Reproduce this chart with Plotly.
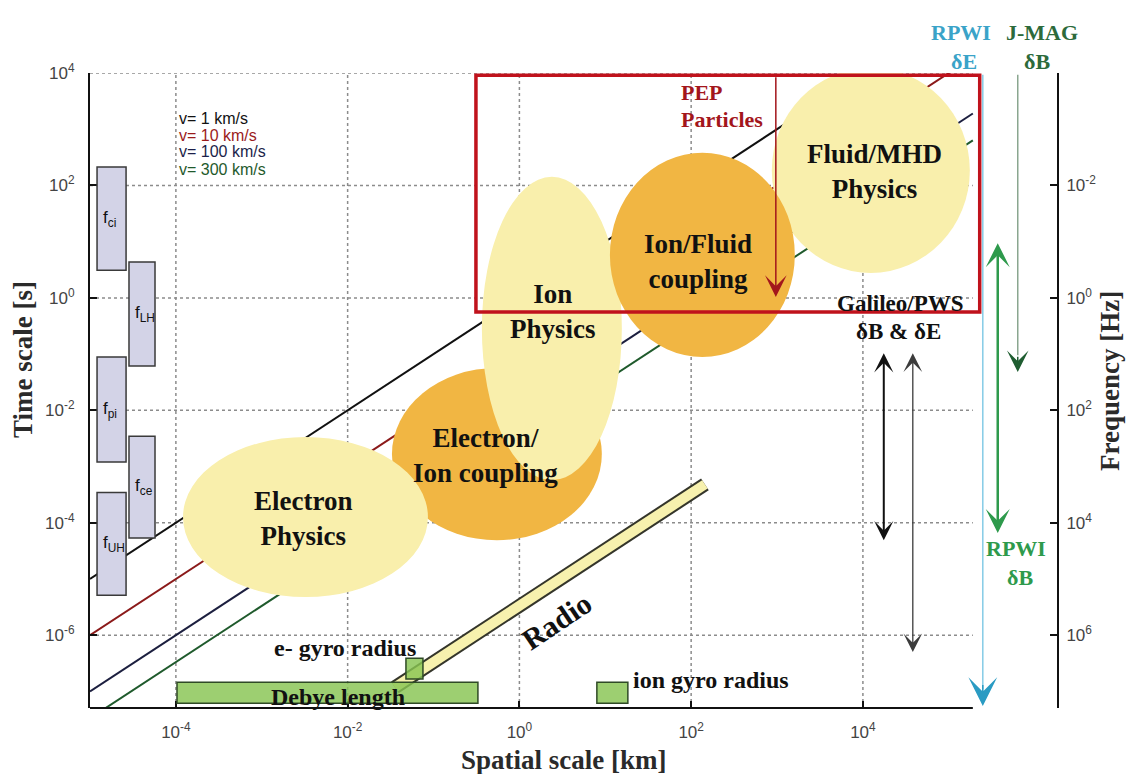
import numpy as np
import plotly.graph_objects as go

# ---------------- data ----------------
velocity_kms = [1, 10, 100, 300]
velocity_label = ["v= 1 km/s", "v= 10 km/s", "v= 100 km/s", "v= 300 km/s"]
light_speed_kms = 3.0e5

x_tick_vals = [1e-4, 1e-2, 1e0, 1e2, 1e4]
x_tick_text = ["10<sup>-4</sup>", "10<sup>-2</sup>", "10<sup>0</sup>", "10<sup>2</sup>", "10<sup>4</sup>"]
t_tick_vals = [1e-6, 1e-4, 1e-2, 1e0, 1e2, 1e4]
t_tick_text = ["10<sup>-6</sup>", "10<sup>-4</sup>", "10<sup>-2</sup>", "10<sup>0</sup>", "10<sup>2</sup>", "10<sup>4</sup>"]
f_tick_vals = [1e-2, 1e0, 1e2, 1e4, 1e6]
f_tick_text = ["10<sup>-2</sup>", "10<sup>0</sup>", "10<sup>2</sup>", "10<sup>4</sup>", "10<sup>6</sup>"]

plasma_freq_label = ["f<sub>ci</sub>", "f<sub>LH</sub>", "f<sub>pi</sub>", "f<sub>ce</sub>", "f<sub>UH</sub>"]
plasma_t_upper = [10**2.33, 10**0.64, 10**-1.05, 10**-2.46, 10**-3.46]
plasma_t_lower = [10**0.49, 10**-1.21, 10**-2.92, 10**-4.27, 10**-5.29]
plasma_column = [0, 1, 0, 1, 0]
column_L_left = [10**-4.918, 10**-4.546]
column_L_right = [10**-4.580, 10**-4.243]

# physical regimes (drawing order matters)
regime_label = ["Electron/<br>Ion coupling", "Electron<br>Physics", "Ion<br>Physics",
                "Fluid/MHD<br>Physics", "Ion/Fluid<br>coupling"]
regime_kind = ["coupling", "physics", "physics", "physics", "coupling"]
regime_L_min = [10**-1.484, 10**-3.917, 10**-0.437, 10**2.939, 10**1.054]
regime_L_max = [10**0.960, 10**-1.065, 10**1.193, 10**5.245, 10**3.207]
regime_t_max = [10**-1.246, 10**-2.475, 10**2.153, 10**4.09, 10**2.58]
regime_t_min = [10**-4.31, 10**-5.32, 10**-3.24, 10**0.445, 10**-1.05]
regime_label_L = [10**-0.39, 10**-2.52, 10**0.39, 10**4.138, 10**2.078]
regime_label_t = [10**-2.81, 10**-3.92, 10**-0.25, 10**2.24, 10**0.64]

scale_label = ["Debye length", "e- gyro radius", "ion gyro radius"]
scale_L_min = [10**-3.987, 10**-1.321, 10**0.902]
scale_L_max = [10**-0.483, 10**-1.123, 10**1.263]
scale_t_max = [10**-6.834, 10**-6.407, 10**-6.834]
scale_t_min = [10**-7.208, 10**-6.780, 10**-7.208]

radio_L = [10**-1.45, 10**2.16]

pep_box_L = [10**-0.506, 10**5.36]
pep_box_t = [10**-0.25, 10**3.96]

instrument_name = ["PEP", "Galileo/PWS a", "Galileo/PWS b", "RPWI dE", "RPWI dB", "J-MAG dB"]
instrument_L = [10**2.986, 10**4.243, 10**4.581, 10**5.396, 10**5.570, 10**5.803]
instrument_t_upper = [10**3.95, 10**-0.96, 10**-0.96, 10**3.97, 10**1.0, 10**3.97]
instrument_t_lower = [10**0.017, 10**-4.31, 10**-6.30, 10**-7.26, 10**-4.18, 10**-1.32]
instrument_two_sided = [False, True, True, False, True, False]

# ---------------- layout constants ----------------
W, H = 1130, 774
ML, MR, MT, MB = 90, 73, 73, 66
XR = [-5.0, 6.26]
YR = [-7.294, 4.0]
X_END = 10**5.28  # right end of the main box

SERIF = "Liberation Serif, Times New Roman, serif"
SANS = "Liberation Sans, Arial, Helvetica, sans-serif"

YELLOW = "#f9efac"
ORANGE = "#f1b643"
velocity_color = ["#111111", "#8b1a1a", "#1c1f3f", "#1f5a2c"]
velocity_text_color = ["#111111", "#9b1b1b", "#1c1f4a", "#1f5a2c"]


def px(x):
    return (x - ML) / (W - ML - MR)


def py(y):
    return (H - MB - y) / (H - MT - MB)


lg = np.log10

fig = go.Figure()

# velocity lines
for v, c in zip(velocity_kms, velocity_color):
    xs = np.array([10**XR[0], X_END])
    fig.add_trace(go.Scatter(x=xs, y=xs / v, mode="lines",
                             line=dict(color=c, width=2),
                             hoverinfo="skip", showlegend=False))

# dummy trace for frequency axis
fig.add_trace(go.Scatter(x=[1.0], y=[1.0], yaxis="y2", mode="markers",
                         marker=dict(opacity=0), hoverinfo="skip", showlegend=False))

shapes = []
# grid (below traces)
for xv in x_tick_vals:
    shapes.append(dict(type="line", layer="below", xref="x", yref="paper",
                       x0=xv, x1=xv, y0=0, y1=1,
                       line=dict(color="#8c8c8c", width=1.5, dash="dot")))
for tv in t_tick_vals:
    shapes.append(dict(type="line", layer="below", xref="x", yref="y",
                       x0=10**XR[0], x1=X_END, y0=tv, y1=tv,
                       line=dict(color="#8c8c8c", width=1.5, dash="dot")))

# regimes (ellipses)
for i in range(len(regime_label)):
    shapes.append(dict(type="circle", layer="above", xref="x", yref="y",
                       x0=regime_L_min[i], x1=regime_L_max[i],
                       y0=regime_t_min[i], y1=regime_t_max[i],
                       fillcolor=YELLOW if regime_kind[i] == "physics" else ORANGE,
                       line=dict(width=0)))

# plasma frequency boxes
for i in range(len(plasma_freq_label)):
    c = plasma_column[i]
    shapes.append(dict(type="rect", layer="above", xref="x", yref="y",
                       x0=column_L_left[c], x1=column_L_right[c],
                       y0=plasma_t_lower[i], y1=plasma_t_upper[i],
                       fillcolor="#d3d3e7", line=dict(color="#3a3a3a", width=1.5)))

# radio band along t = L / c
radio_t = [L / light_speed_kms for L in radio_L]
shapes.append(dict(type="line", layer="above", xref="x", yref="y",
                   x0=radio_L[0], x1=radio_L[1], y0=radio_t[0], y1=radio_t[1],
                   line=dict(color="#34352a", width=14)))
shapes.append(dict(type="line", layer="above", xref="x", yref="y",
                   x0=radio_L[0], x1=radio_L[1], y0=radio_t[0], y1=radio_t[1],
                   line=dict(color="#f7f1ae", width=10)))

# scale boxes (slightly transparent so the radio band shows through)
for i in range(len(scale_label)):
    shapes.append(dict(type="rect", layer="above", xref="x", yref="y",
                       x0=scale_L_min[i], x1=scale_L_max[i],
                       y0=scale_t_min[i], y1=scale_t_max[i],
                       fillcolor="rgba(135,196,82,0.82)", line=dict(color="#2f4a26", width=1.5)))

# bottom axis line
shapes.append(dict(type="line", layer="above", xref="x", yref="paper",
                   x0=10**XR[0], x1=X_END, y0=0, y1=0,
                   line=dict(color="#111111", width=2)))

# PEP box
shapes.append(dict(type="rect", layer="above", xref="x", yref="y",
                   x0=pep_box_L[0], x1=pep_box_L[1], y0=pep_box_t[0], y1=pep_box_t[1],
                   line=dict(color="#c0121c", width=3.5)))

# light lines for RPWI dE and J-MAG
for idx, col in [(3, "#85cbe6"), (5, "#8aa68f")]:
    shapes.append(dict(type="line", layer="above", xref="x", yref="y",
                       x0=instrument_L[idx], x1=instrument_L[idx],
                       y0=instrument_t_upper[idx], y1=instrument_t_lower[idx] * 10**0.3,
                       line=dict(color=col, width=1.5)))

annotations = []


def text(x, y, s, size, color="#111111", font=SERIF, bold=True, xanchor="center",
         angle=0, xref="paper", yref="paper"):
    annotations.append(dict(x=x, y=y, xref=xref, yref=yref, text=("<b>%s</b>" % s) if bold else s,
                            showarrow=False, xanchor=xanchor, yanchor="middle",
                            textangle=angle,
                            font=dict(family=font, size=size, color=color)))


# regime labels
for i in range(len(regime_label)):
    text(lg(regime_label_L[i]), lg(regime_label_t[i]), regime_label[i], 27,
         xref="x", yref="y")

# plasma frequency labels
for i in range(len(plasma_freq_label)):
    c = plasma_column[i]
    yc = (lg(plasma_t_lower[i]) + lg(plasma_t_upper[i])) / 2
    text(lg(column_L_left[c]) + 0.05, yc, plasma_freq_label[i], 17, font=SANS,
         bold=False, xanchor="left", xref="x", yref="y")

# velocity legend
for i, (lab, c) in enumerate(zip(velocity_label, velocity_text_color)):
    text(px(177), py(118 + 17 * i), lab, 16, color=c, font=SANS, bold=False, xanchor="left")

# scale labels
text(px(338), py(697), scale_label[0], 24)
text(px(345), py(648), scale_label[1], 24)
text(px(631), py(680), scale_label[2], 24, xanchor="left")
text(px(556), py(621), "Radio", 30, angle=-34)

# PEP label
text(px(679), py(92), "PEP", 22, color="#a3161c", xanchor="left")
text(px(679), py(120), "Particles", 22, color="#a3161c", xanchor="left")

# Galileo
text(px(900), py(303), "Galileo/PWS", 23)
text(px(898), py(331), "δB &amp; δE", 23)

# instrument labels on right
text(px(961), py(32), "RPWI", 22, color="#3aa3c8")
text(px(964), py(62), "δE", 22, color="#3aa3c8")
text(px(1042), py(32), "J-MAG", 22, color="#2d6a3b")
text(px(1037), py(62), "δB", 22, color="#2d6a3b")
text(px(1016), py(548), "RPWI", 22, color="#2e9a4c")
text(px(1020), py(577), "δB", 22, color="#2e9a4c")

# axis titles
text(px(564), py(760), "Spatial scale [km]", 27, color="#2a2a2a")
text(px(23), py(360), "Time scale [s]", 27, color="#2a2a2a", angle=-90)
text(px(1110), py(381), "Frequency [Hz]", 27, color="#2a2a2a", angle=-90)


# arrows
def arrow(i, color, width, size, head_only_offset=None, two=False):
    x = lg(instrument_L[i])
    y_tip = lg(instrument_t_lower[i])
    y_tail = lg(instrument_t_upper[i]) if head_only_offset is None else y_tip + head_only_offset
    annotations.append(dict(x=x, y=y_tip, ax=x, ay=y_tail, xref="x", yref="y",
                            axref="x", ayref="y", text="", showarrow=True,
                            arrowhead=3, arrowsize=size, arrowwidth=width,
                            arrowcolor=color, startarrowhead=3, startarrowsize=size,
                            arrowside="end+start" if two else "end",
                            standoff=0, startstandoff=0))


arrow(0, "#a3161c", 1.5, 2.4)
arrow(1, "#111111", 2, 1.6, two=True)
arrow(2, "#3c3c3c", 1.3, 2.4, two=True)
arrow(3, "#2a9bc3", 1.5, 3.2, head_only_offset=0.4)
arrow(4, "#2e9a4c", 2.5, 1.6, two=True)
arrow(5, "#1f5d31", 1.5, 2.4, head_only_offset=0.3)

fig.update_layout(
    width=W, height=H,
    margin=dict(l=ML, r=MR, t=MT, b=MB, pad=0),
    paper_bgcolor="white", plot_bgcolor="white",
    showlegend=False,
    shapes=shapes, annotations=annotations,
    xaxis=dict(type="log", range=XR, showgrid=False, zeroline=False, showline=False,
               tickvals=x_tick_vals, ticktext=x_tick_text, ticks="inside", ticklen=7,
               tickwidth=2, tickcolor="#111111", ticklabelstandoff=12,
               tickfont=dict(family=SANS, size=17, color="#444444")),
    yaxis=dict(type="log", range=YR, showgrid=False, zeroline=False, showline=True,
               linecolor="#111111", linewidth=2,
               tickvals=t_tick_vals, ticktext=t_tick_text, ticks="inside", ticklen=7,
               tickwidth=2, tickcolor="#111111", ticklabelstandoff=10,
               tickfont=dict(family=SANS, size=17, color="#444444")),
    yaxis2=dict(type="log", range=[-YR[0], -YR[1]], overlaying="y", side="right",
                anchor="x", showgrid=False, zeroline=False, showline=True,
                linecolor="#111111", linewidth=2,
                tickvals=f_tick_vals, ticktext=f_tick_text, ticks="inside", ticklen=7,
                tickwidth=2, tickcolor="#111111", ticklabelstandoff=4,
                tickfont=dict(family=SANS, size=17, color="#444444")),
)

fig.write_html("out.html", config={"displayModeBar": False},
               post_script="document.body.style.margin='0px';")
